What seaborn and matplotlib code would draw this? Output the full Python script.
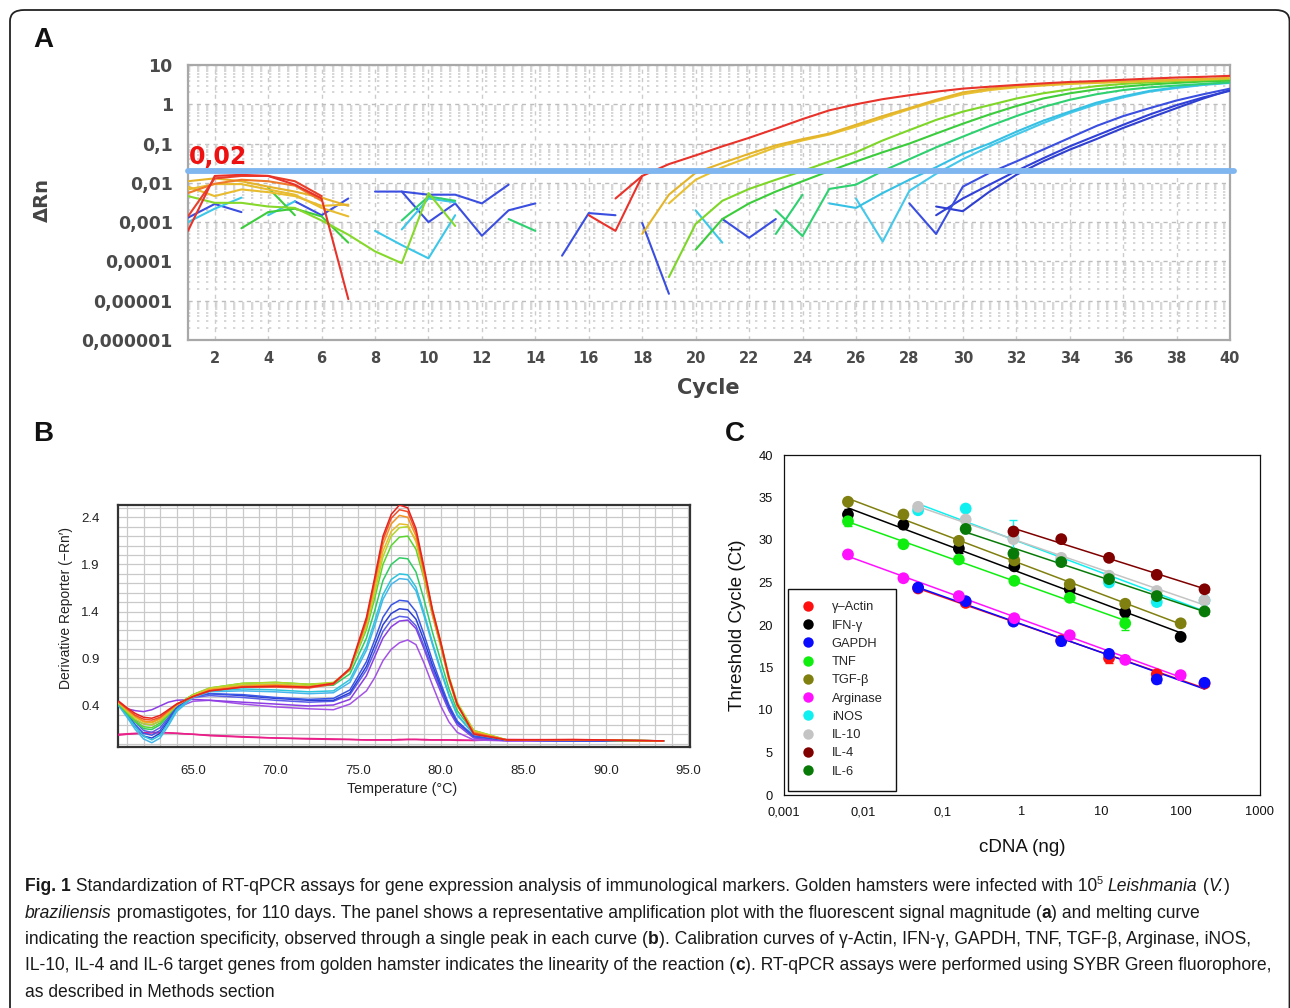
import numpy as np
import pandas as pd
import matplotlib
matplotlib.use("Agg")
import matplotlib.pyplot as plt
import seaborn as sns
from matplotlib.patches import FancyBboxPatch
from matplotlib.lines import Line2D
from matplotlib.ticker import FixedLocator, MultipleLocator, LogLocator, NullFormatter, NullLocator

# ---------------- Panel A data (amplification plot: start cycle, ΔRn values) ----------------
red_amp = (17, [0.004, 0.015, 0.03, 0.05, 0.085, 0.14, 0.24, 0.42, 0.7, 1.0, 1.35, 1.7, 2.1, 2.5,
                2.8, 3.1, 3.4, 3.7, 3.9, 4.2, 4.5, 4.8, 5.0, 5.3])
red_v = (16, [0.0015, 0.0006, 0.015])
red_e1 = (1, [0.0006, 0.015, 0.016, 0.015, 0.009, 0.004, 0.000011])
red_e2 = (1, [0.0014, 0.013, 0.015, 0.015, 0.011, 0.0046])
orange_e = (1, [0.0055, 0.0095, 0.012, 0.011, 0.0085, 0.0035])
yel_amp1 = (18, [0.0005, 0.005, 0.018, 0.032, 0.055, 0.09, 0.13, 0.18, 0.3, 0.5, 0.8, 1.3, 2.0, 2.5,
                 2.9, 3.1, 3.4, 3.6, 3.8, 4.0, 4.2, 4.4, 4.7])
yel_amp2 = (19, [0.003, 0.012, 0.025, 0.045, 0.08, 0.12, 0.17, 0.27, 0.45, 0.75, 1.2, 1.8, 2.3, 2.7,
                 3.0, 3.3, 3.5, 3.7, 3.9, 4.1, 4.3, 4.6])
yel_e1 = (1, [0.011, 0.013, 0.011, 0.008, 0.006, 0.0042, 0.0026])
yel_e2 = (1, [0.0068, 0.0093, 0.0093, 0.0068, 0.005, 0.0023, 0.0014])
yel_e3 = (1, [0.008, 0.0046, 0.0068, 0.0058, 0.0046, 0.0026, 0.0028])
lime_amp = (19, [0.00004, 0.0009, 0.0035, 0.007, 0.012, 0.02, 0.035, 0.06, 0.12, 0.22, 0.4, 0.65,
                 0.95, 1.4, 1.9, 2.4, 2.9, 3.3, 3.6, 3.9, 4.1, 4.4])
lime_e = (1, [0.0046, 0.0031, 0.0031, 0.0025, 0.0023, 0.0011, 0.00048, 0.00018, 0.00009, 0.0055, 0.0008])
grn_amp = (20, [0.0002, 0.0012, 0.003, 0.006, 0.011, 0.02, 0.035, 0.06, 0.1, 0.18, 0.32, 0.55, 0.9,
                1.4, 1.9, 2.4, 2.8, 3.2, 3.5, 3.8, 4.0])
grn_e2 = (3, [0.0007, 0.0018, 0.0022, 0.0014, 0.0003])
grn_e3 = (4, [0.0075, 0.0015])
grn_m = (9, [0.0011, 0.0045, 0.0035])
sea_amp = (23, [0.002, 0.00044, 0.007, 0.009, 0.02, 0.04, 0.08, 0.15, 0.28, 0.5, 0.85, 1.3, 1.8, 2.3,
                2.7, 3.0, 3.3, 3.6])
sea_x = (23, [0.0005, 0.005])
sea_m = (13, [0.0012, 0.0006])
cyan_amp1 = (25, [0.003, 0.0023, 0.0055, 0.012, 0.025, 0.055, 0.1, 0.2, 0.38, 0.65, 1.1, 1.6, 2.2,
                  2.7, 3.2, 3.6])
cyan_amp2 = (26, [0.004, 0.00032, 0.0063, 0.017, 0.04, 0.085, 0.17, 0.33, 0.6, 1.0, 1.5, 2.1, 2.6,
                  3.1, 3.5])
cyan_e1 = (1, [0.001, 0.0022, 0.0042])
cyan_e2 = (4, [0.0015, 0.0034])
cyan_m1 = (8, [0.0006, 0.00026, 0.00012, 0.0015])
cyan_m2 = (9, [0.00065, 0.004, 0.0032])
cyan_m3 = (20, [0.002, 0.0003])
blue_amp1 = (28, [0.003, 0.0005, 0.008, 0.018, 0.035, 0.07, 0.14, 0.28, 0.5, 0.8, 1.25, 1.8, 2.5])
blue_amp2 = (29, [0.0025, 0.0019, 0.006, 0.016, 0.035, 0.07, 0.13, 0.25, 0.45, 0.8, 1.4, 2.3])
blue_amp3 = (29, [0.0015, 0.004, 0.009, 0.02, 0.042, 0.085, 0.16, 0.3, 0.55, 0.95, 1.5, 2.2])
blue_e1 = (1, [0.0013, 0.0029, 0.0018])
blue_e2 = (5, [0.0034, 0.0015, 0.004])
blue_m1 = (8, [0.006, 0.006, 0.005, 0.005, 0.003, 0.009])
blue_m2 = (9, [0.006, 0.001, 0.003, 0.00045, 0.002, 0.003])
blue_m3 = (15, [0.00014, 0.0017, 0.0015])
blue_m4 = (18, [0.00095, 0.000015])
blue_m5 = (21, [0.0012, 0.0004, 0.0012])
threshold = 0.02
a_xticks = list(range(2, 41, 2))
a_yticks = [1e-6, 1e-5, 1e-4, 1e-3, 1e-2, 1e-1, 1, 10]
a_ylabels = ["0,000001", "0,00001", "0,0001", "0,001", "0,01", "0,1", "1", "10"]

# ---------------- Panel B data (melt curves) ----------------
temp = [60.5, 61.0, 61.5, 62.0, 62.5, 63.0, 63.5, 64.0, 65.0, 66.0, 68.0, 70.0, 72.0, 73.5, 74.5,
        75.5, 76.0, 76.5, 77.0, 77.5, 78.0, 78.5, 79.0, 79.5, 80.0, 80.5, 81.0, 82.0, 84.0, 88.0, 93.5]
m_red1 = [0.45, 0.38, 0.32, 0.28, 0.27, 0.30, 0.36, 0.42, 0.50, 0.56, 0.60, 0.61, 0.60, 0.64, 0.80, 1.34,
          1.76, 2.20, 2.43, 2.53, 2.50, 2.28, 1.86, 1.42, 1.08, 0.70, 0.42, 0.10, 0.04, 0.045, 0.03]
m_red2 = [0.44, 0.37, 0.30, 0.26, 0.25, 0.28, 0.35, 0.42, 0.50, 0.56, 0.60, 0.60, 0.59, 0.63, 0.79, 1.31,
          1.73, 2.16, 2.39, 2.48, 2.46, 2.24, 1.83, 1.40, 1.06, 0.69, 0.41, 0.11, 0.04, 0.04, 0.03]
m_orange = [0.44, 0.36, 0.29, 0.24, 0.23, 0.27, 0.34, 0.41, 0.50, 0.57, 0.61, 0.62, 0.60, 0.64, 0.79, 1.30,
            1.70, 2.11, 2.33, 2.42, 2.40, 2.20, 1.80, 1.38, 1.05, 0.68, 0.41, 0.12, 0.04, 0.04, 0.03]
m_yellow = [0.43, 0.35, 0.28, 0.23, 0.22, 0.26, 0.33, 0.41, 0.51, 0.58, 0.62, 0.63, 0.61, 0.64, 0.79, 1.27,
            1.65, 2.04, 2.25, 2.33, 2.32, 2.14, 1.76, 1.36, 1.03, 0.67, 0.40, 0.13, 0.04, 0.04, 0.03]
m_ygreen = [0.43, 0.34, 0.26, 0.21, 0.20, 0.24, 0.32, 0.41, 0.52, 0.59, 0.64, 0.65, 0.63, 0.65, 0.78, 1.24,
            1.60, 1.98, 2.20, 2.29, 2.30, 2.16, 1.82, 1.42, 1.08, 0.72, 0.44, 0.14, 0.04, 0.04, 0.03]
m_green = [0.42, 0.33, 0.24, 0.18, 0.17, 0.22, 0.31, 0.41, 0.52, 0.59, 0.64, 0.65, 0.63, 0.64, 0.78, 1.21,
           1.54, 1.90, 2.10, 2.19, 2.20, 2.06, 1.74, 1.36, 1.03, 0.69, 0.42, 0.14, 0.04, 0.04, 0.03]
m_green2 = [0.42, 0.32, 0.23, 0.16, 0.15, 0.20, 0.30, 0.41, 0.52, 0.58, 0.62, 0.63, 0.61, 0.62, 0.74, 1.12,
            1.41, 1.73, 1.90, 1.97, 1.96, 1.82, 1.52, 1.18, 0.88, 0.58, 0.35, 0.12, 0.04, 0.04, 0.03]
m_cyan = [0.41, 0.30, 0.18, 0.08, 0.04, 0.09, 0.22, 0.36, 0.50, 0.56, 0.58, 0.57, 0.55, 0.56, 0.68, 1.03,
          1.30, 1.58, 1.74, 1.80, 1.79, 1.66, 1.38, 1.07, 0.79, 0.52, 0.31, 0.10, 0.04, 0.04, 0.03]
m_cyan2 = [0.40, 0.28, 0.15, 0.05, 0.01, 0.06, 0.19, 0.34, 0.49, 0.55, 0.56, 0.55, 0.53, 0.54, 0.65, 0.99,
           1.25, 1.53, 1.69, 1.75, 1.74, 1.62, 1.35, 1.05, 0.77, 0.51, 0.30, 0.10, 0.04, 0.04, 0.03]
m_blue = [0.43, 0.32, 0.20, 0.11, 0.09, 0.14, 0.26, 0.38, 0.50, 0.53, 0.52, 0.49, 0.47, 0.48, 0.57, 0.87,
          1.10, 1.34, 1.47, 1.52, 1.51, 1.40, 1.15, 0.88, 0.64, 0.41, 0.24, 0.08, 0.04, 0.03, 0.03]
m_blue2 = [0.42, 0.31, 0.18, 0.08, 0.06, 0.11, 0.24, 0.37, 0.50, 0.53, 0.51, 0.48, 0.46, 0.46, 0.54, 0.82,
           1.04, 1.26, 1.38, 1.43, 1.42, 1.32, 1.09, 0.83, 0.61, 0.39, 0.23, 0.08, 0.04, 0.03, 0.03]
m_blue3 = [0.44, 0.34, 0.23, 0.14, 0.12, 0.17, 0.28, 0.39, 0.49, 0.51, 0.49, 0.46, 0.44, 0.45, 0.52, 0.78,
           0.98, 1.19, 1.31, 1.35, 1.34, 1.25, 1.03, 0.79, 0.58, 0.37, 0.22, 0.07, 0.04, 0.03, 0.03]
m_violet = [0.42, 0.37, 0.35, 0.34, 0.36, 0.40, 0.44, 0.46, 0.47, 0.46, 0.44, 0.42, 0.40, 0.41, 0.47, 0.72,
            0.92, 1.12, 1.24, 1.30, 1.31, 1.22, 1.00, 0.76, 0.55, 0.35, 0.20, 0.06, 0.03, 0.03, 0.03]
m_violet2 = [0.43, 0.33, 0.25, 0.21, 0.20, 0.24, 0.31, 0.38, 0.45, 0.46, 0.42, 0.39, 0.37, 0.36, 0.42, 0.56,
             0.70, 0.88, 1.00, 1.07, 1.10, 1.05, 0.85, 0.62, 0.40, 0.23, 0.12, 0.04, 0.03, 0.03, 0.03]
m_mag1 = [0.09, 0.10, 0.105, 0.11, 0.115, 0.115, 0.115, 0.11, 0.10, 0.09, 0.075, 0.06, 0.05, 0.045, 0.045,
          0.04, 0.04, 0.04, 0.04, 0.04, 0.045, 0.045, 0.045, 0.04, 0.04, 0.04, 0.04, 0.035, 0.04, 0.04, 0.03]
m_mag2 = [0.10, 0.105, 0.11, 0.115, 0.12, 0.12, 0.115, 0.11, 0.10, 0.085, 0.07, 0.06, 0.055, 0.05, 0.045,
          0.04, 0.04, 0.04, 0.04, 0.045, 0.045, 0.045, 0.04, 0.04, 0.04, 0.04, 0.035, 0.035, 0.045, 0.04, 0.03]
b_xticks = [65.0, 70.0, 75.0, 80.0, 85.0, 90.0, 95.0]
b_yticks = [0.4, 0.9, 1.4, 1.9, 2.4]

# ---------------- Panel C data (calibration curves) ----------------
conc5 = [0.0064, 0.032, 0.16, 0.8, 4.0, 20.0, 100.0]
conc4 = [0.049, 0.195, 0.78, 3.125, 12.5, 50.0, 200.0]
genes = ["γ\u2013Actin", "IFN-γ", "GAPDH", "TNF", "TGF-β", "Arginase", "iNOS", "IL-10", "IL-4", "IL-6"]
actin_ct = [24.3, 22.6, 20.5, 18.2, 16.1, 14.2, 13.1]
actin_sd = [0.3, 0.3, 0.3, 0.3, 0.6, 0.3, 0.3]
ifn_ct = [33.0, 31.8, 29.0, 26.9, 24.2, 21.5, 18.6]
ifn_sd = [0.7, 0.4, 0.5, 0.3, 0.3, 0.3, 0.3]
gapdh_ct = [24.4, 22.8, 20.4, 18.1, 16.6, 13.6, 13.2]
gapdh_sd = [0.4, 0.3, 0.3, 0.4, 0.3, 0.4, 0.3]
tnf_ct = [32.2, 29.5, 27.7, 25.2, 23.2, 20.2]
tnf_sd = [0.6, 0.3, 0.3, 0.3, 0.3, 0.8]
tgf_ct = [34.5, 33.0, 29.9, 27.6, 24.8, 22.5, 20.2]
tgf_sd = [0.3, 0.3, 0.3, 0.3, 0.3, 0.3, 0.3]
arg_ct = [28.3, 25.5, 23.4, 20.8, 18.8, 15.9, 14.1]
arg_sd = [0.4, 0.3, 0.3, 0.3, 0.3, 0.3, 0.3]
inos_ct = [33.5, 33.7, 30.2, 27.6, 25.0, 22.7, 22.9]
inos_sd = [0.3, 0.3, 2.1, 0.3, 0.3, 0.3, 0.3]
il10_ct = [33.9, 32.4, 30.1, 27.9, 25.8, 24.0, 22.9]
il10_sd = [0.3, 0.3, 0.3, 0.3, 0.3, 0.3, 0.3]
il4_ct = [31.0, 30.1, 27.9, 25.9, 24.2]
il4_sd = [0.4, 0.3, 0.3, 0.3, 0.3]
il6_ct = [31.3, 28.4, 27.4, 25.4, 23.4, 21.6]
il6_sd = [0.5, 0.4, 0.3, 0.3, 0.3, 0.3]
c_xticks = [0.001, 0.01, 0.1, 1, 10, 100, 1000]
c_xlabels = ["0,001", "0,01", "0,1", "1", "10", "100", "1000"]

# ---------------- figure ----------------
sns.set_theme(style="white")
plt.rcParams["font.family"] = ["Liberation Sans", "DejaVu Sans"]
plt.rcParams["axes.unicode_minus"] = False

W, H = 1290, 1008
fig = plt.figure(figsize=(W / 100, H / 100), dpi=100)
fig.patch.set_facecolor("white")


def rect(l, t, r, b):
    return [l / W, 1 - b / H, (r - l) / W, (b - t) / H]


def fx(x):
    return x / W


def fy(y):
    return 1 - y / H


# outer rounded frame
frame = FancyBboxPatch((fx(10), fy(1040)), fx(1289.5) - fx(10), fy(10) - fy(1040),
                       boxstyle="round,pad=0,rounding_size=0.011", transform=fig.transFigure,
                       fill=False, edgecolor="#222222", lw=1.3, zorder=0)
fig.add_artist(frame)

# ---------------- Panel A ----------------
axA = fig.add_axes(rect(188, 65, 1230, 340))
A_series = [
    ("blue_m1", "#3a4ee0", blue_m1), ("blue_m2", "#3a4ee0", blue_m2), ("blue_m3", "#3a4ee0", blue_m3),
    ("blue_m4", "#3a4ee0", blue_m4), ("blue_m5", "#3a4ee0", blue_m5), ("blue_e1", "#3a4ee0", blue_e1),
    ("blue_e2", "#3a4ee0", blue_e2),
    ("blue_amp3", "#3040d8", blue_amp3), ("blue_amp2", "#2f3fd0", blue_amp2), ("blue_amp1", "#3a4ee0", blue_amp1),
    ("cyan_e1", "#3cc6e8", cyan_e1), ("cyan_e2", "#3cc6e8", cyan_e2), ("cyan_m1", "#3cc6e8", cyan_m1),
    ("cyan_m2", "#3cc6e8", cyan_m2), ("cyan_m3", "#3cc6e8", cyan_m3),
    ("cyan_amp2", "#45c8ea", cyan_amp2), ("cyan_amp1", "#35c0e4", cyan_amp1),
    ("sea_m", "#2ed070", sea_m), ("sea_x", "#2ed070", sea_x), ("sea_amp", "#2ed070", sea_amp),
    ("grn_e2", "#3ccc3c", grn_e2), ("grn_e3", "#3ccc3c", grn_e3), ("grn_m", "#2ed070", grn_m),
    ("grn_amp", "#3ccc3c", grn_amp), ("lime_e", "#86d82a", lime_e), ("lime_amp", "#7ed628", lime_amp),
    ("yel_e3", "#e8bc2e", yel_e3), ("yel_e2", "#e8bc2e", yel_e2), ("yel_e1", "#e6b42a", yel_e1),
    ("yel_amp2", "#e8c030", yel_amp2), ("yel_amp1", "#e4b42a", yel_amp1),
    ("orange_e", "#ee7a2a", orange_e), ("red_e2", "#e8402a", red_e2), ("red_e1", "#e8322a", red_e1),
    ("red_v", "#e8322a", red_v), ("red_amp", "#e8322a", red_amp),
]
rows = []
for name, col, (start, vals) in A_series:
    for i, v in enumerate(vals):
        rows.append((name, start + i, v))
dfA = pd.DataFrame(rows, columns=["curve", "cycle", "dRn"])
palA = {name: col for name, col, _ in A_series}
axA.set_yscale("log")
sns.lineplot(data=dfA, x="cycle", y="dRn", hue="curve", hue_order=[n for n, _, _ in A_series],
             palette=palA, estimator=None, legend=False, lw=1.5, ax=axA, zorder=3)
axA.set_xlim(1, 40)
axA.set_ylim(1e-6, 10)
axA.set_xlabel("")
axA.set_ylabel("")
axA.xaxis.set_major_locator(FixedLocator(a_xticks))
axA.xaxis.set_minor_locator(NullLocator())
axA.set_xticklabels([str(t) for t in a_xticks])
axA.yaxis.set_major_locator(FixedLocator(a_yticks))
axA.set_yticklabels(a_ylabels)
axA.yaxis.set_minor_locator(LogLocator(base=10, subs=np.arange(2, 10), numticks=20))
axA.yaxis.set_minor_formatter(NullFormatter())
axA.grid(True, which="minor", axis="y", color="#cfcfcf", lw=1.2, ls=(0, (1.4, 4.0)), zorder=0)
axA.grid(True, which="major", axis="y", color="#bdbdbd", lw=1.0, ls=(0, (3, 3)), zorder=0)
axA.grid(True, which="major", axis="x", color="#cccccc", lw=1.0, ls=(0, (3, 3)), zorder=0)
axA.tick_params(axis="y", which="minor", length=0)
axA.tick_params(axis="both", which="major", direction="out", length=5, width=1.2, color="#888888",
                labelcolor="#4a4a4a")
axA.tick_params(axis="y", labelsize=12.5, pad=6)
axA.tick_params(axis="x", labelsize=10.5, pad=3)
for lab in axA.get_xticklabels() + axA.get_yticklabels():
    lab.set_fontfamily("DejaVu Sans")
    lab.set_fontweight("bold")
for sp in axA.spines.values():
    sp.set_color("#a8a8a8")
    sp.set_linewidth(1.6)
axA.axhline(threshold, xmin=0, xmax=1.004, color="#7fb6ef", lw=4.2, zorder=4, clip_on=False)
axA.text(1.02, threshold * 1.12, "0,02", color="#ee1111", fontsize=17, fontweight="bold",
         family="DejaVu Sans", ha="left", va="bottom", zorder=5)
fig.text(fx(42), fy(200), "ΔRn", rotation=90, ha="center", va="center", fontsize=14,
         fontweight="bold", family="DejaVu Sans", color="#444444")
fig.text(fx(708), fy(388), "Cycle", ha="center", va="center", fontsize=15, fontweight="bold",
         family="DejaVu Sans", color="#444444")

# ---------------- Panel B ----------------
axB = fig.add_axes(rect(118, 505, 690, 747))
B_series = [
    ("mag2", "#ec1e84", m_mag2), ("mag1", "#e8208a", m_mag1),
    ("violet2", "#a452e6", m_violet2), ("violet", "#8c3ee4", m_violet),
    ("blue3", "#5a5ee8", m_blue3), ("blue2", "#2c3fd2", m_blue2), ("blue", "#3a56e6", m_blue),
    ("cyan2", "#46b6ec", m_cyan2), ("cyan", "#2ec4dc", m_cyan),
    ("green2", "#2ecc62", m_green2), ("green", "#5ad62e", m_green), ("ygreen", "#b2d62a", m_ygreen),
    ("yellow", "#e6bc2a", m_yellow), ("orange", "#f39422", m_orange), ("red2", "#f24d26", m_red2),
    ("red1", "#e6231e", m_red1),
]
rowsB = []
for name, col, vals in B_series:
    for t, v in zip(temp, vals):
        rowsB.append((name, t, v))
dfB = pd.DataFrame(rowsB, columns=["curve", "temp", "deriv"])
palB = {name: col for name, col, _ in B_series}
sns.lineplot(data=dfB, x="temp", y="deriv", hue="curve", hue_order=[n for n, _, _ in B_series],
             palette=palB, estimator=None, legend=False, lw=1.1, ax=axB, zorder=3)
axB.set_xlim(60.45, 95.1)
axB.set_ylim(-0.035, 2.53)
axB.set_xlabel("")
axB.set_ylabel("")
axB.xaxis.set_major_locator(FixedLocator(b_xticks))
axB.set_xticklabels([f"{t:.1f}" for t in b_xticks])
axB.xaxis.set_minor_locator(MultipleLocator(1))
axB.yaxis.set_major_locator(FixedLocator(b_yticks))
axB.set_yticklabels([f"{t:.1f}" for t in b_yticks])
axB.yaxis.set_minor_locator(MultipleLocator(0.1))
axB.grid(True, which="both", color="#c9c9c9", lw=0.9, ls="-", zorder=0)
axB.tick_params(axis="both", which="both", direction="out", color="#555555", width=0.9)
axB.tick_params(axis="both", which="major", length=5, labelsize=9.5, labelcolor="#222222", pad=8)
axB.tick_params(axis="both", which="minor", length=4)
for sp in axB.spines.values():
    sp.set_color("#333333")
    sp.set_linewidth(1.6)
fig.text(fx(402), fy(789), "Temperature (°C)", ha="center", va="center", fontsize=10.3, color="#222222")
fig.text(fx(66), fy(608), "Derivative Reporter (\u2212Rn\u2032)", rotation=90, ha="center", va="center",
         fontsize=10, color="#222222")

# ---------------- Panel C ----------------
axC = fig.add_axes(rect(784, 455, 1260, 795))
axC.set_xscale("log")
C_series = [
    ("γ\u2013Actin", "#ff1010", conc4, actin_ct, actin_sd),
    ("IFN-γ", "#000000", conc5, ifn_ct, ifn_sd),
    ("GAPDH", "#0a0aff", conc4, gapdh_ct, gapdh_sd),
    ("TNF", "#10ee10", conc5[:6], tnf_ct, tnf_sd),
    ("TGF-β", "#808010", conc5, tgf_ct, tgf_sd),
    ("Arginase", "#ff10ff", conc5, arg_ct, arg_sd),
    ("iNOS", "#10f0f0", conc4, inos_ct, inos_sd),
    ("IL-10", "#c4c4c4", conc4, il10_ct, il10_sd),
    ("IL-4", "#800000", conc4[2:], il4_ct, il4_sd),
    ("IL-6", "#087a08", conc4[1:], il6_ct, il6_sd),
]
for lab, col, xs, ys, sd in C_series:
    d = pd.DataFrame({"cdna": xs, "ct": ys})
    sns.regplot(data=d, x="cdna", y="ct", logx=True, scatter=False, ci=None, truncate=True,
                color=col, line_kws={"lw": 1.1, "zorder": 2}, ax=axC)
for lab, col, xs, ys, sd in C_series:
    axC.errorbar(xs, ys, yerr=sd, fmt="none", ecolor=col, elinewidth=1.0, capsize=3, capthick=1.0, zorder=3)
dfC = pd.concat([pd.DataFrame({"cdna": xs, "ct": ys, "gene": lab}) for lab, col, xs, ys, sd in C_series])
palC = {lab: col for lab, col, _, _, _ in C_series}
sns.scatterplot(data=dfC, x="cdna", y="ct", hue="gene", hue_order=genes, palette=palC, s=72,
                edgecolor="none", legend=False, ax=axC, zorder=4)
axC.set_xlim(0.001, 1000)
axC.set_ylim(0, 40)
axC.set_xlabel("")
axC.set_ylabel("")
axC.xaxis.set_major_locator(FixedLocator(c_xticks))
axC.set_xticklabels(c_xlabels)
axC.xaxis.set_minor_locator(NullLocator())
axC.yaxis.set_major_locator(MultipleLocator(5))
axC.tick_params(axis="both", which="major", direction="out", length=4, width=0.9, color="#111111",
                labelsize=9.3, labelcolor="#111111", pad=4)
for sp in axC.spines.values():
    sp.set_color("#111111")
    sp.set_linewidth(0.9)
handles = [Line2D([], [], ls="none", marker="o", markersize=7.5, color=palC[g], markeredgecolor="none")
           for g in genes]
leg = axC.legend(handles, genes, loc="lower left", bbox_to_anchor=(0.008, 0.013), fontsize=9.3,
                 frameon=True, fancybox=False, edgecolor="#111111", framealpha=1, borderpad=1.0,
                 labelspacing=0.48, handletextpad=1.2, handlelength=1.2, borderaxespad=0)
leg.get_frame().set_linewidth(1.0)
fig.text(fx(737), fy(625), "Threshold Cycle (Ct)", rotation=90, ha="center", va="center", fontsize=13.5,
         color="#111111")
fig.text(fx(1022), fy(848), "cDNA (ng)", ha="center", va="center", fontsize=13.5, color="#111111")

# panel letters
for letter, (px, py) in {"A": (43, 40), "B": (43, 434), "C": (735, 434)}.items():
    fig.text(fx(px), fy(py), letter, ha="center", va="center", fontsize=20, fontweight="bold", color="#111111")

# ---------------- Caption ----------------
renderer = fig.canvas.get_renderer()
cap_lines = [
    [("Fig. 1", "b"), (" Standardization of RT-qPCR assays for gene expression analysis of immunological "
                        "markers. Golden hamsters were infected with 10", "n"), ("5", "sup"), (" ", "n"),
     ("Leishmania", "i"), (" (", "n"), ("V.", "i"), (")", "n")],
    [("braziliensis", "i"), (" promastigotes, for 110 days. The panel shows a representative amplification plot "
                             "with the fluorescent signal magnitude (", "n"), ("a", "b"), (") and melting curve", "n")],
    [("indicating the reaction specificity, observed through a single peak in each curve (", "n"), ("b", "b"),
     ("). Calibration curves of γ-Actin, IFN-γ, GAPDH, TNF, TGF-β, Arginase, iNOS,", "n")],
    [("IL-10, IL-4 and IL-6 target genes from golden hamster indicates the linearity of the reaction (", "n"),
     ("c", "b"), ("). RT-qPCR assays were performed using SYBR Green fluorophore,", "n")],
    [("as described in Methods section", "n")],
]


def style_kw(kind, size):
    if kind == "b":
        return dict(fontsize=size, fontweight="bold")
    if kind == "i":
        return dict(fontsize=size, fontstyle="italic")
    if kind == "sup":
        return dict(fontsize=size * 0.62)
    return dict(fontsize=size)


def run_width(s, kw):
    t = fig.text(0, 0, "|" + s + "|", **kw)
    w1 = t.get_window_extent(renderer).width
    t.set_text("||")
    w2 = t.get_window_extent(renderer).width
    t.remove()
    return w1 - w2


def line_width(runs, size):
    return sum(run_width(s, style_kw(k, size)) for s, k in runs)


base = 12.0
cap_size = base * 1255.0 / line_width(cap_lines[3], base)
baselines = [891, 917.5, 944, 970.5, 997]
for runs, yb in zip(cap_lines, baselines):
    x = 25.0
    for s, k in runs:
        kw = style_kw(k, cap_size)
        yy = yb - 7 if k == "sup" else yb
        fig.text(fx(x), fy(yy), s, va="baseline", ha="left", color="#1a1a1a", **kw)
        x += run_width(s, kw)

fig.savefig("out.png", dpi=100, facecolor="white")
